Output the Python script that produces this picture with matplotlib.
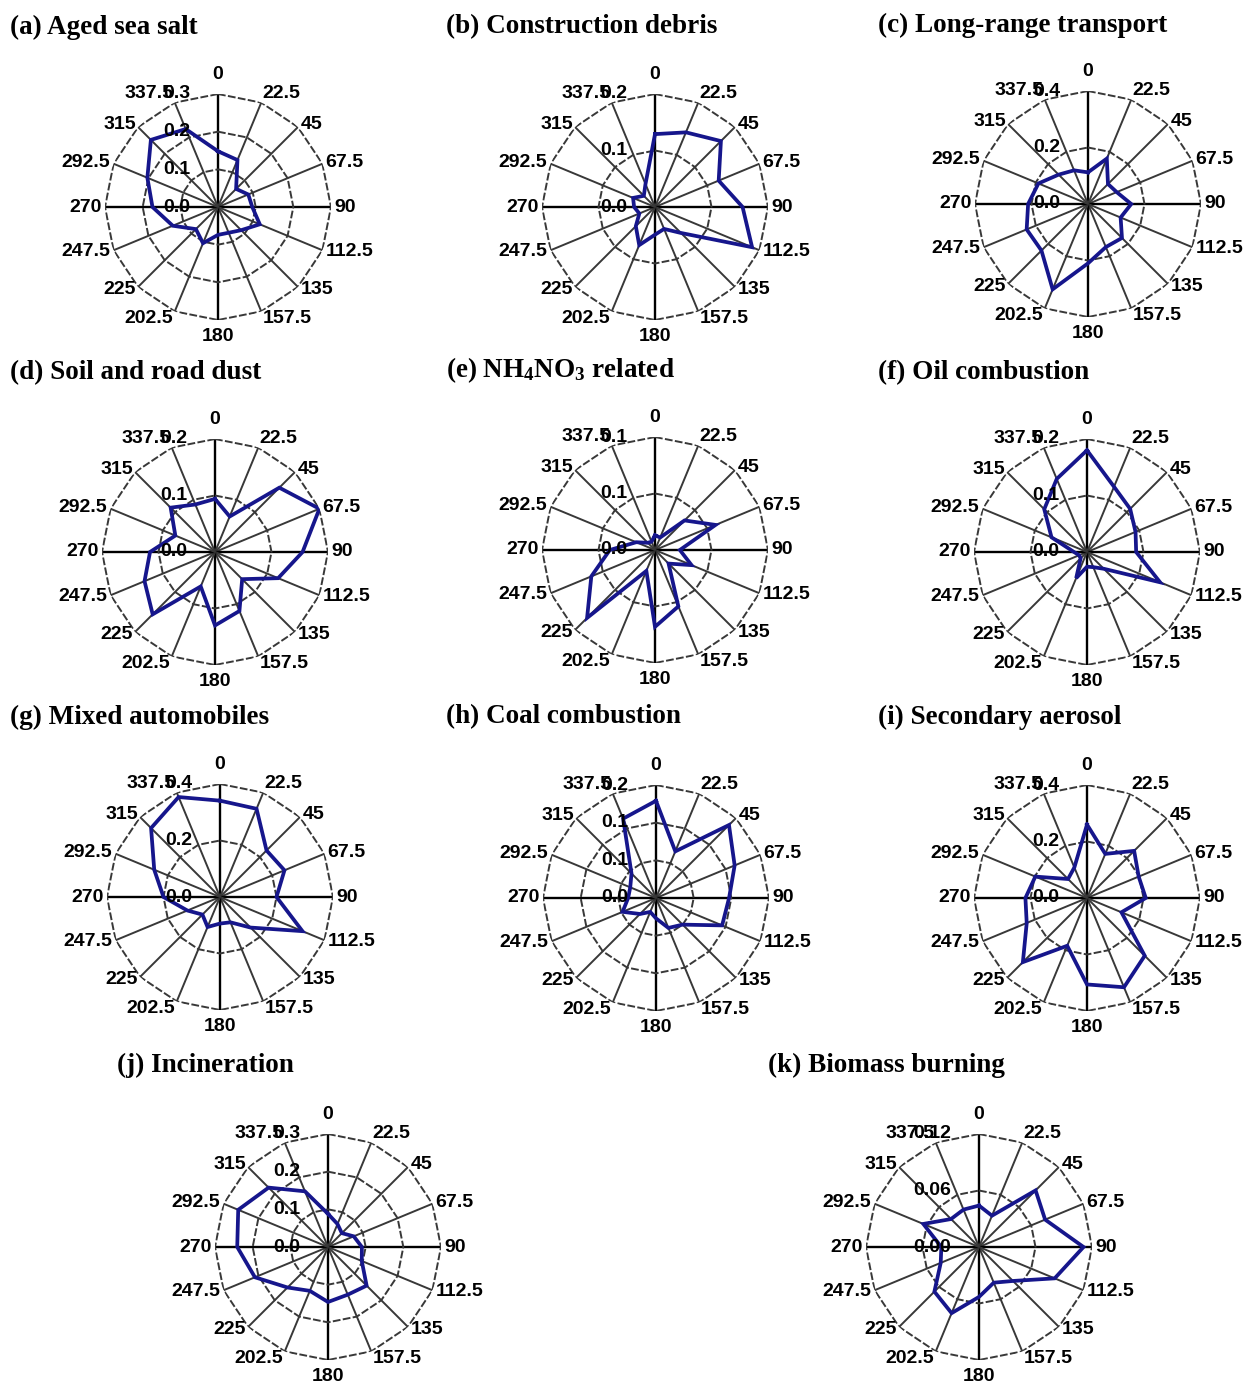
import numpy as np
import matplotlib
matplotlib.use("Agg")
import matplotlib.pyplot as plt

plt.rcParams["mathtext.fontset"] = "custom"
plt.rcParams["mathtext.rm"] = "Liberation Serif:bold"
plt.rcParams["mathtext.bf"] = "Liberation Serif:bold"
plt.rcParams["mathtext.it"] = "Liberation Serif:bold"

# Wind directions (degrees, clockwise from north)
directions = [0, 22.5, 45, 67.5, 90, 112.5, 135, 157.5,
              180, 202.5, 225, 247.5, 270, 292.5, 315, 337.5]
direction_labels = ["0", "22.5", "45", "67.5", "90", "112.5", "135", "157.5",
                    "180", "202.5", "225", "247.5", "270", "292.5", "315", "337.5"]

# Panel titles
titles = ["(a) Aged sea salt", "(b) Construction debris", "(c) Long-range transport",
          "(d) Soil and road dust", "(e) NH$_4$NO$_3$ related", "(f) Oil combustion",
          "(g) Mixed automobiles", "(h) Coal combustion", "(i) Secondary aerosol",
          "(j) Incineration", "(k) Biomass burning"]

# Source contributions by wind direction (one list per source)
aged_sea_salt = [0.148, 0.135, 0.068, 0.087, 0.091, 0.120, 0.087, 0.074,
                 0.074, 0.104, 0.083, 0.130, 0.174, 0.203, 0.252, 0.224]
construction_debris = [0.129, 0.143, 0.165, 0.122, 0.155, 0.186, 0.065, 0.042,
                       0.049, 0.073, 0.048, 0.030, 0.037, 0.042, 0.028, 0.044]
long_range_transport = [0.112, 0.174, 0.100, 0.110, 0.153, 0.125, 0.170, 0.165,
                        0.210, 0.327, 0.233, 0.235, 0.212, 0.190, 0.147, 0.129]
soil_road_dust = [0.094, 0.068, 0.161, 0.200, 0.155, 0.121, 0.068, 0.113,
                  0.130, 0.066, 0.156, 0.135, 0.115, 0.076, 0.111, 0.091]
nh4no3_related = [0.013, 0.012, 0.037, 0.058, 0.022, 0.035, 0.017, 0.054,
                  0.068, 0.020, 0.085, 0.061, 0.040, 0.018, 0.009, 0.008]
oil_combustion = [0.180, 0.125, 0.108, 0.093, 0.087, 0.140, 0.042, 0.029,
                  0.026, 0.050, 0.016, 0.015, 0.023, 0.068, 0.107, 0.140]
mixed_automobiles = [0.341, 0.338, 0.233, 0.247, 0.200, 0.316, 0.153, 0.097,
                     0.094, 0.115, 0.088, 0.125, 0.200, 0.252, 0.345, 0.383]
coal_combustion = [0.129, 0.067, 0.137, 0.113, 0.097, 0.095, 0.050, 0.043,
                   0.027, 0.020, 0.030, 0.048, 0.037, 0.037, 0.046, 0.114]
secondary_aerosol = [0.260, 0.169, 0.236, 0.198, 0.208, 0.132, 0.289, 0.342,
                     0.306, 0.183, 0.321, 0.231, 0.218, 0.198, 0.095, 0.117]
incineration = [0.088, 0.066, 0.052, 0.074, 0.090, 0.097, 0.145, 0.137,
                0.146, 0.126, 0.152, 0.210, 0.241, 0.258, 0.223, 0.160]
biomass_burning = [0.044, 0.036, 0.085, 0.076, 0.111, 0.087, 0.051, 0.041,
                   0.053, 0.076, 0.067, 0.044, 0.040, 0.064, 0.042, 0.043]

series = [aged_sea_salt, construction_debris, long_range_transport, soil_road_dust,
          nh4no3_related, oil_combustion, mixed_automobiles, coal_combustion,
          secondary_aerosol, incineration, biomass_burning]

# Radial axis ticks and their printed labels
radial_ticks = [[0, 0.1, 0.2, 0.3], [0, 0.1, 0.2], [0, 0.2, 0.4], [0, 0.1, 0.2],
                [0, 0.05, 0.1], [0, 0.1, 0.2], [0, 0.2, 0.4], [0, 0.05, 0.1, 0.15],
                [0, 0.2, 0.4], [0, 0.1, 0.2, 0.3], [0, 0.06, 0.12]]
radial_labels = [["0.0", "0.1", "0.2", "0.3"], ["0.0", "0.1", "0.2"], ["0.0", "0.2", "0.4"],
                 ["0.0", "0.1", "0.2"], ["0.0", "0.1", "0.1"], ["0.0", "0.1", "0.2"],
                 ["0.0", "0.2", "0.4"], ["0.0", "0.1", "0.1", "0.2"], ["0.0", "0.2", "0.4"],
                 ["0.0", "0.1", "0.2", "0.3"], ["0.00", "0.06", "0.12"]]

W, H = 1254, 1387
fig = plt.figure(figsize=(W / 100, H / 100), dpi=100)

# Layout in pixels: plot centre, outer radius, title anchor
centres = [(218, 207), (655, 207), (1088, 204),
           (215, 552), (655, 550), (1087, 552),
           (220, 897), (656, 898), (1087, 898),
           (328, 1247), (979, 1247)]
radius = 113
title_pos = [(10, 27), (446, 27), (878, 25),
             (10, 373), (446, 370), (878, 373),
             (10, 717), (446, 717), (878, 717),
             (117, 1065), (768, 1065)]

LABEL_FONT = dict(family="Liberation Sans", weight="bold", size=14)
LINE_COLOR = "#16168c"
GRID_COLOR = "#383838"

theta = np.deg2rad(directions)
theta_closed = np.append(theta, theta[0])

for i in range(len(series)):
    cx, cy = centres[i]
    ax = fig.add_axes([(cx - radius) / W, 1 - (cy + radius) / H,
                       2 * radius / W, 2 * radius / H], projection="polar")
    ax.set_theta_zero_location("N")
    ax.set_theta_direction(-1)
    rmax = radial_ticks[i][-1]
    ax.set_ylim(0, rmax)
    ax.grid(False)
    ax.spines["polar"].set_visible(False)
    ax.set_xticks([])
    ax.set_yticks([])
    ax.patch.set_alpha(0)

    # Spokes
    for th, d in zip(theta, directions):
        axis_line = d % 90 == 0
        ax.plot([th, th], [0, rmax], color="black" if axis_line else GRID_COLOR,
                lw=1.7 if axis_line else 1.4, solid_capstyle="butt", zorder=1)

    # Polygonal rings
    for t in radial_ticks[i][1:]:
        ax.plot(theta_closed, [t] * len(theta_closed), color=GRID_COLOR, lw=1.4,
                linestyle=(0, (4, 1.2)), zorder=1)

    # Source profile
    vals = series[i] + series[i][:1]
    ax.plot(theta_closed, vals, color=LINE_COLOR, lw=2.7, zorder=3,
            solid_joinstyle="miter")

    # Direction labels outside the frame
    for th, d, lab in zip(theta, directions, direction_labels):
        s, c = np.sin(th), np.cos(th)
        ha = "left" if s > 0.1 else ("right" if s < -0.1 else "center")
        if d == 0:
            va, off = "bottom", (0, 8)
        elif d == 180:
            va, off = "top", (0, -6)
        else:
            va = "center"
            off = (2.5 * s, 2.5 * c + (-3 if c < -0.8 else 0) + (4 if c > 0.8 else 0))
        ax.annotate(lab, xy=(th, rmax), xytext=off, textcoords="offset points",
                    ha=ha, va=va, annotation_clip=False, **LABEL_FONT)

    # Radial value labels
    for t, lab in zip(radial_ticks[i], radial_labels[i]):
        ax.annotate(lab, xy=(0, t), xytext=(-20, 0), textcoords="offset points",
                    ha="right", va="center", annotation_clip=False, zorder=4,
                    **LABEL_FONT)

    tx, ty = title_pos[i]
    fig.text(tx / W, 1 - ty / H, titles[i], ha="left", va="center",
             family="Liberation Serif", weight="bold", size=19.5)

fig.savefig("out.png", dpi=100, facecolor="white")
